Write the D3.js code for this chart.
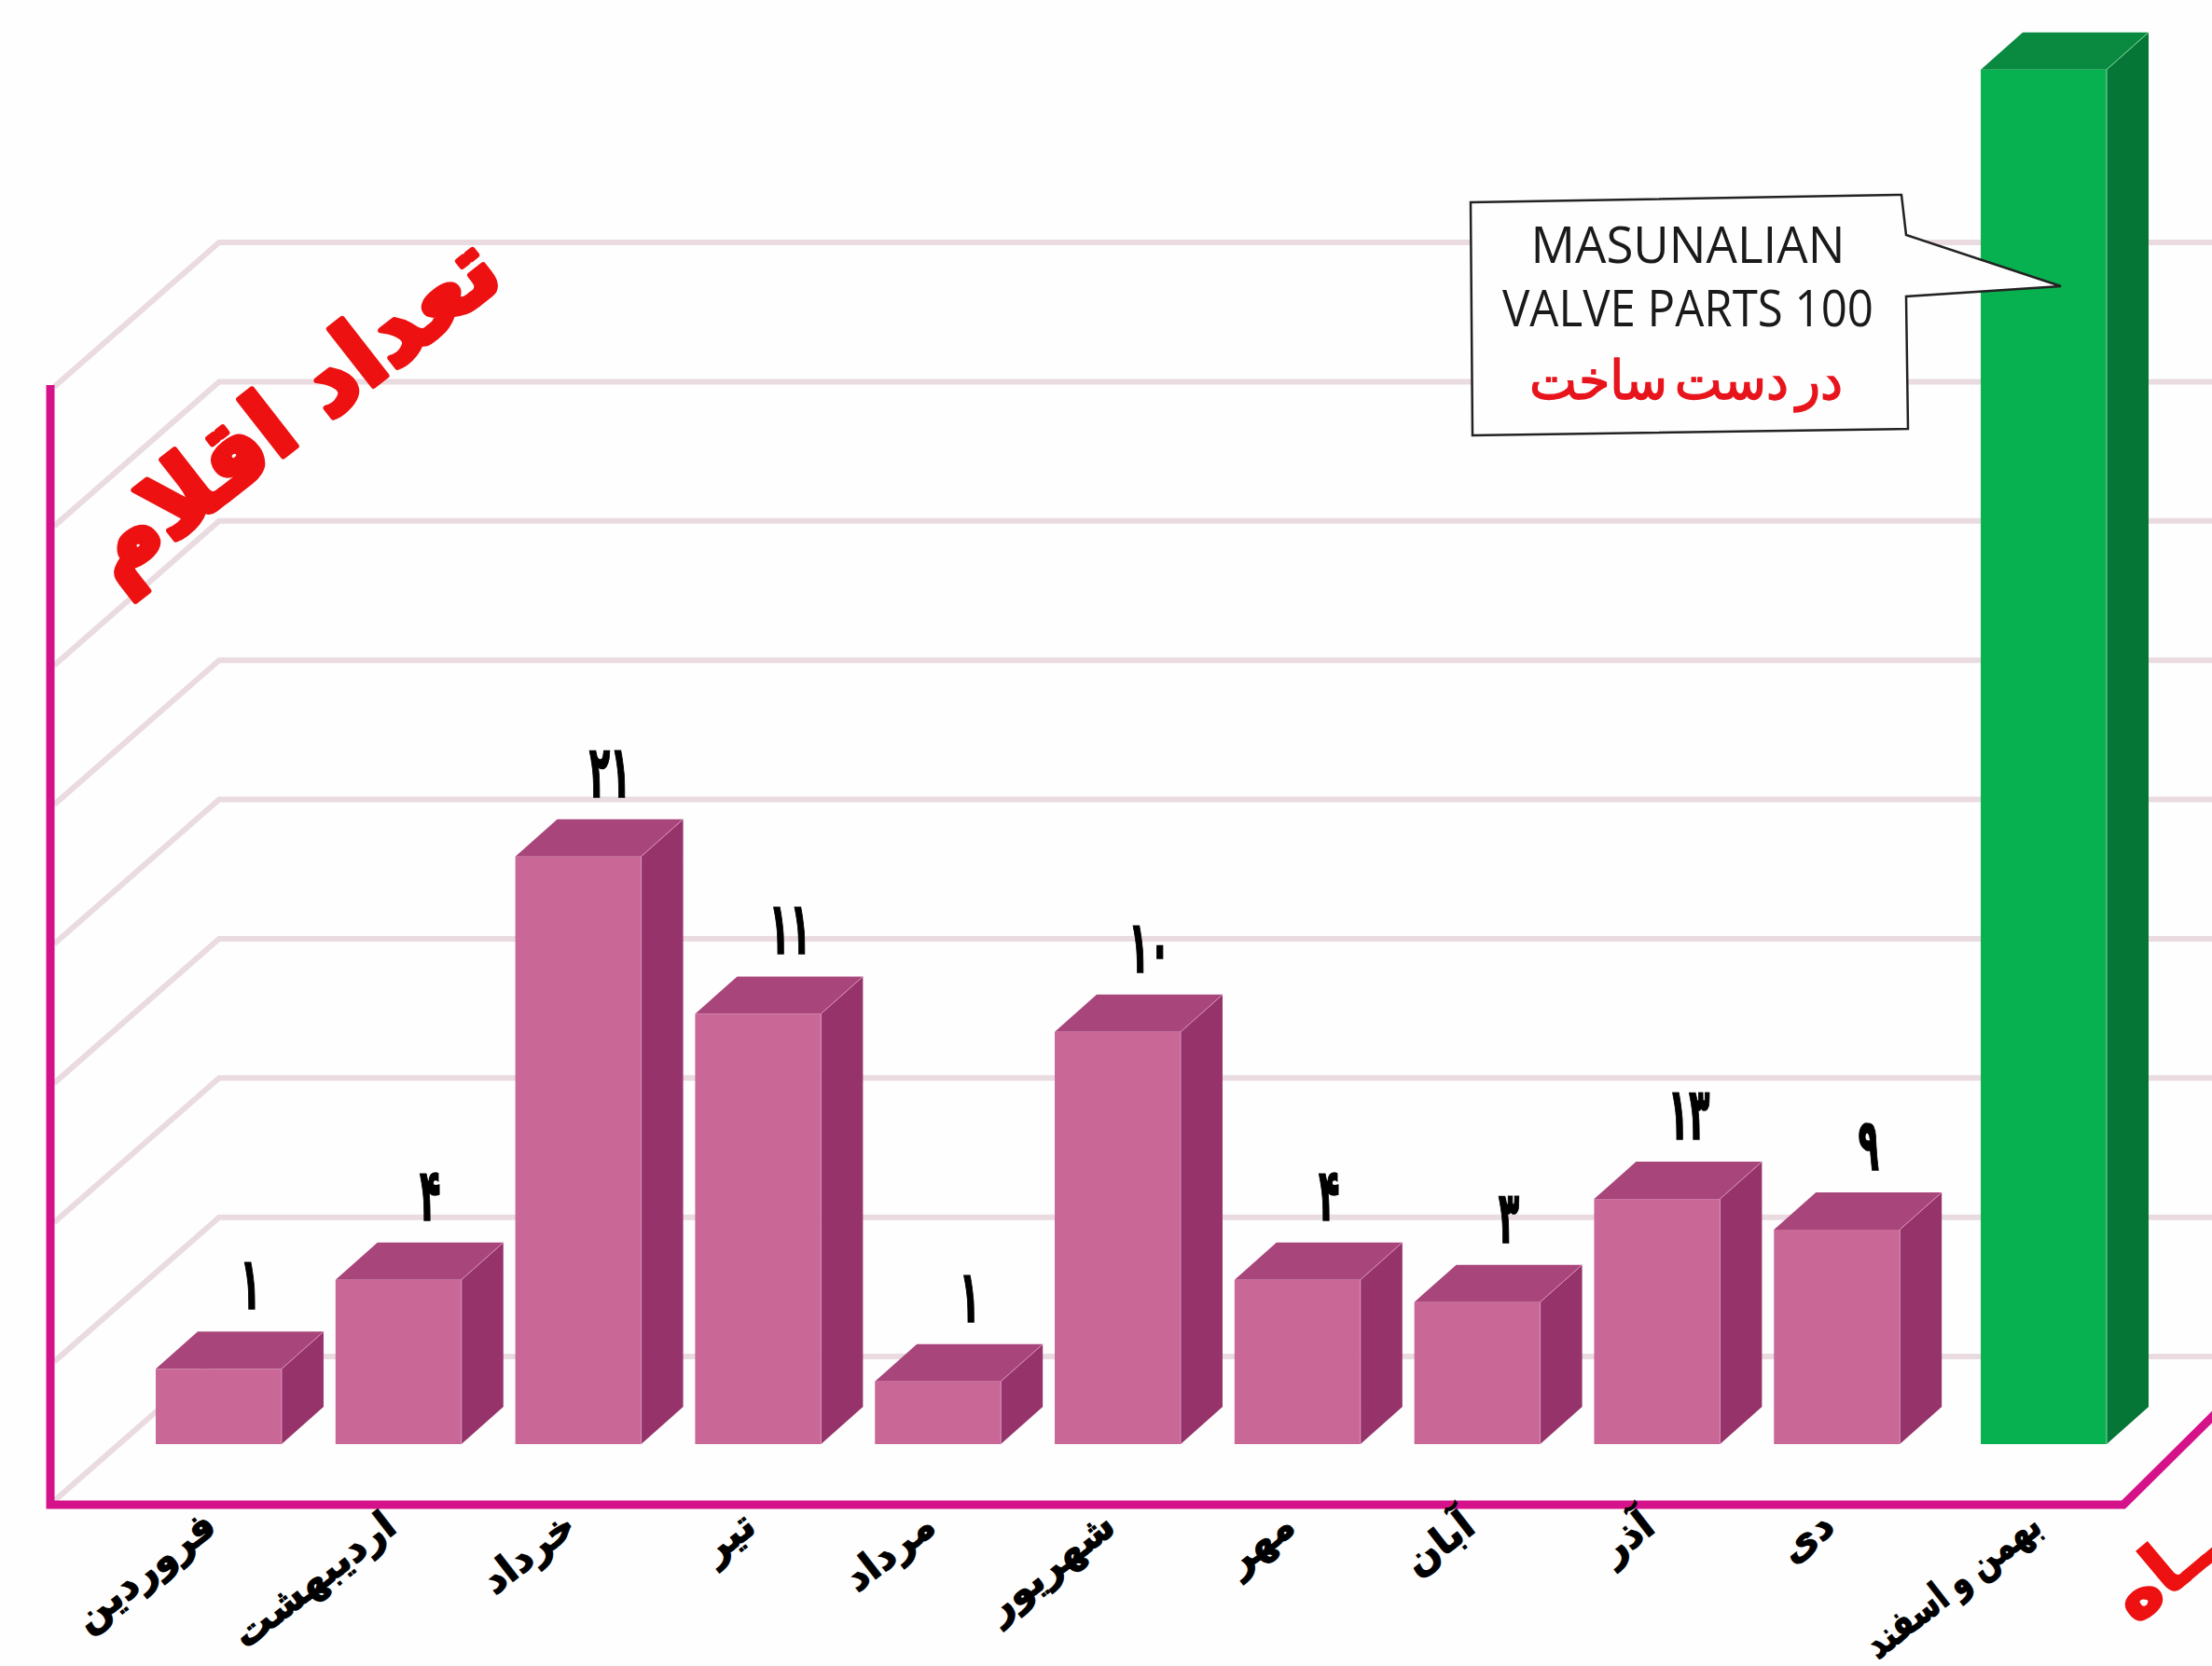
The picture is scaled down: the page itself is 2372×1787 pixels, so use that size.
<!DOCTYPE html>
<html>
<head>
<meta charset="utf-8">
<script src="https://cdn.jsdelivr.net/npm/d3@7"></script>
<style>
  html, body { margin: 0; padding: 0; background: #fefefe; overflow: hidden; }
  svg { display: block; }
</style>
</head>
<body>
<script>
// months run left to right, the last one is the green bar
const months = ['فروردین', 'اردیبهشت', 'خرداد', 'تیر', 'مرداد', 'شهریور', 'مهر', 'آبان', 'آذر', 'دی', 'بهمن و اسفند']
// numbers printed above the bars (the last one is in the callout)
const printedValues = ['۱', '۴', '۲۱', '۱۱', '۱', '۱۰', '۴', '۳', '۱۳', '۹', '']
// drawn bar heights in gridline steps. they do not follow the printed numbers
const barHeights = [0.54, 1.18, 4.22, 3.09, 0.45, 2.96, 1.18, 1.02, 1.76, 1.54, 9.87]
const gridLevels = [0, 1, 2, 3, 4, 5, 6, 7, 8]
const calloutLines = ['MASUNALIAN', 'VALVE PARTS 100']
const calloutRed = 'در دست ساخت'
const yTitle = 'تعداد اقلام'
// the start of this word runs off the right edge in the picture
const xTitle = 'مــــــاه'

const width = 2372
const height = 1787
const persian = '"DejaVu Sans", sans-serif'

const PINK = { front: '#c96797', top: '#a8457b', side: '#96336b', edge: '#dc92b8' }
const GREEN = { front: '#08b14f', top: '#0a8a40', side: '#067637', edge: '#7fd9a3' }

const svg = d3.select('body').append('svg')
    .attr('width', width)
    .attr('height', height)

const x = d3.scaleBand()
    .domain(months)
    .range([167, 2230])
    .paddingInner(0.3)
    .paddingOuter(0)

// front plane of the floor, gridlines are pushed back from it
const y = d3.scaleLinear()
    .domain([0, 8])
    .range([1610, 415])

const wallDx = 181
const wallDy = 155
const axisLeft = 54

// bars stand a little way in from the front of the floor
const barInset = 61
const depthX = 45
const depthY = 40
const greenGap = 29

const barX = (m) => x(m) + (m === months[months.length - 1] ? greenGap : 0)

svg.append('rect')
    .attr('width', width)
    .attr('height', height)
    .attr('fill', '#fefefe')

// gridlines on the wall + the slanted bit on the side wall
svg.append('g').selectAll('path').data(gridLevels).join('path')
    .attr('d', (d) => `M${axisLeft + 4},${y(d)}L${axisLeft + wallDx},${y(d) - wallDy}H${width}`)
    .attr('fill', 'none')
    .attr('stroke', '#e9dbe0')
    .attr('stroke-width', 6)

// bars
const bars = svg.append('g').selectAll('g').data(months).join('g')
    .attr('transform', (m) => `translate(${barX(m)},0)`)

const colorOf = (i) => i === months.length - 1 ? GREEN : PINK
const barTop = (i) => y(barHeights[i]) - barInset
const barBottom = y(0) - barInset
const bw = x.bandwidth()

bars.append('path')
    .attr('d', (m, i) => `M0,${barTop(i)}l${depthX},${-depthY}h${bw}l${-depthX},${depthY}Z`)
    .attr('fill', (m, i) => colorOf(i).top)
bars.append('path')
    .attr('d', (m, i) => `M${bw},${barTop(i)}l${depthX},${-depthY}V${barBottom - depthY}L${bw},${barBottom}Z`)
    .attr('fill', (m, i) => colorOf(i).side)
bars.append('rect')
    .attr('y', (m, i) => barTop(i))
    .attr('width', bw)
    .attr('height', (m, i) => barBottom - barTop(i))
    .attr('fill', (m, i) => colorOf(i).front)
bars.append('path')
    .attr('d', (m, i) => `M${bw},${barTop(i)}V${barBottom}M${bw},${barTop(i)}l${depthX},${-depthY}`)
    .attr('fill', 'none')
    .attr('stroke', (m, i) => colorOf(i).edge)
    .attr('stroke-width', 1)

// numbers above the bars, tall and narrow like the original face
svg.append('g').selectAll('text').data(months.slice(0, 10)).join('text')
    .attr('transform', (m, i) => `translate(${barX(m) + bw / 2 + 34},${barTop(i) - depthY - 24}) scale(0.8,1.7)`)
    .attr('text-anchor', 'middle')
    .attr('font-family', persian)
    .attr('font-weight', 700)
    .attr('font-size', 46)
    .attr('fill', '#000')
    .attr('stroke', '#000')
    .attr('stroke-width', 1)
    .text((m, i) => printedValues[i])

// axis lines
svg.append('path')
    .attr('d', `M${axisLeft},413V1614H2277L${width + 8},1512`)
    .attr('fill', 'none')
    .attr('stroke', '#d6128a')
    .attr('stroke-width', 9)

// month labels
const xAxis = d3.axisBottom(x).tickSize(0).tickPadding(0)
const axisG = svg.append('g')
    .attr('transform', 'translate(0,1630)')
    .call(xAxis)
axisG.select('.domain').remove()
axisG.selectAll('.tick').attr('transform', (m) => `translate(${barX(m) + bw / 2 - 9},0)`)
axisG.selectAll('text')
    .attr('y', 0)
    .attr('dy', '0.35em')
    .attr('transform', 'rotate(-38)')
    .attr('text-anchor', 'end')
    .attr('font-family', persian)
    .attr('font-weight', 700)
    .attr('font-size', 42)
    .attr('fill', '#000')
    .attr('stroke', '#000')
    .attr('stroke-width', 1.2)
// the long label is squeezed so it stays on the page
axisG.selectAll('text').filter((m) => m === months[months.length - 1])
    .attr('word-spacing', -3)
    .attr('textLength', 226)
    .attr('lengthAdjust', 'spacingAndGlyphs')

// red titles
svg.append('text')
    .attr('transform', 'translate(312,438) rotate(-38)')
    .attr('text-anchor', 'middle')
    .attr('dominant-baseline', 'central')
    .attr('font-family', persian)
    .attr('font-weight', 700)
    .attr('font-size', 102)
    .attr('fill', '#ee1111')
    .attr('stroke', '#ee1111')
    .attr('stroke-width', 6)
    .attr('stroke-linejoin', 'round')
    .text(yTitle)

svg.append('text')
    .attr('transform', 'translate(2290,1743) rotate(-40)')
    .attr('text-anchor', 'start')
    .attr('font-family', persian)
    .attr('font-weight', 700)
    .attr('font-size', 78)
    .attr('fill', '#ee1111')
    .attr('stroke', '#ee1111')
    .attr('stroke-width', 3)
    .text(xTitle)

// callout, slightly skewed as in the picture
const callout = [[1577, 217], [2039, 209], [2044, 252], [2210, 307], [2044, 318], [2046, 460], [1579, 467]]
svg.append('path')
    .attr('d', d3.line()(callout) + 'Z')
    .attr('fill', '#fefefe')
    .attr('stroke', '#222')
    .attr('stroke-width', 2.5)

svg.append('g').selectAll('text').data(calloutLines).join('text')
    .attr('x', 1810)
    .attr('y', (d, i) => 282 + i * 68)
    .attr('text-anchor', 'middle')
    .attr('font-family', '"Open Sans", sans-serif')
    .attr('font-size', 54)
    .attr('textLength', (d, i) => [337, 398][i])
    .attr('lengthAdjust', 'spacingAndGlyphs')
    .attr('fill', '#1a1a1a')
    .text((d) => d)

svg.append('text')
    .attr('x', 1808)
    .attr('y', 428)
    .attr('text-anchor', 'middle')
    .attr('font-family', persian)
    .attr('font-size', 58)
    .attr('word-spacing', -10)
    .attr('textLength', 336)
    .attr('lengthAdjust', 'spacingAndGlyphs')
    .attr('fill', '#e8141c')
    .attr('stroke', '#e8141c')
    .attr('stroke-width', 1.4)
    .text(calloutRed)
</script>
</body>
</html>
